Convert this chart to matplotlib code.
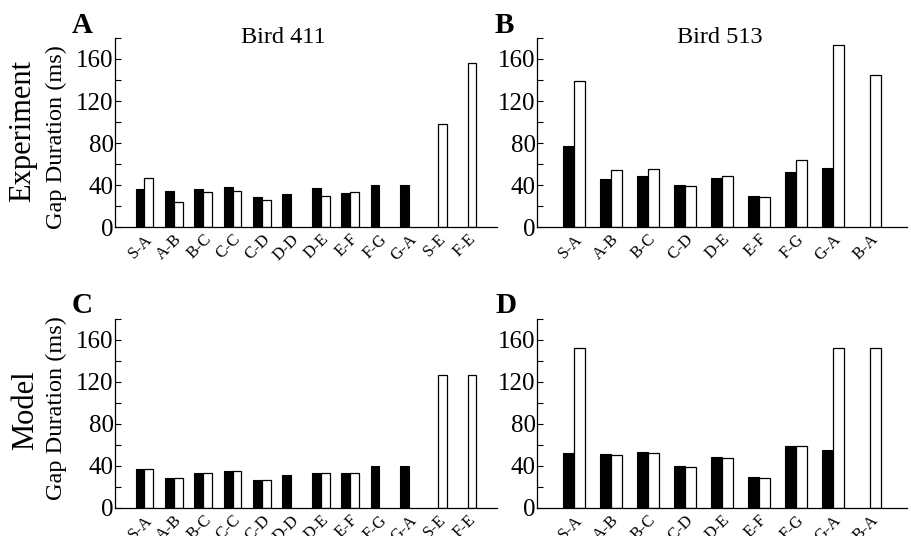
import numpy as np
import matplotlib
matplotlib.use('Agg')
from matplotlib import pyplot as plt

plt.rcParams['font.family'] = ['Liberation Serif', 'DejaVu Serif']

nan = np.nan

# Bird 411 transitions and gap durations (ms)
labels_411 = ['S-A', 'A-B', 'B-C', 'C-C', 'C-D', 'D-D', 'D-E', 'E-F', 'F-G', 'G-A', 'S-E', 'F-E']
exp_411_black = [36, 34, 36, 38, 28.5, 31.5, 37.5, 32.5, 40, 40, nan, nan]
exp_411_white = [47, 24, 33, 34, 25.5, nan, 30, 33, nan, nan, 98, 156]
mod_411_black = [37, 29, 33.5, 35.5, 27, 31.5, 33.5, 33.5, 40, 40, nan, nan]
mod_411_white = [37, 29, 33.5, 35.5, 27, nan, 33.5, 33.5, nan, nan, 126.5, 126.5]

# Bird 513 transitions and gap durations (ms)
labels_513 = ['S-A', 'A-B', 'B-C', 'C-D', 'D-E', 'E-F', 'F-G', 'G-A', 'B-A']
exp_513_black = [77.5, 45.5, 49, 40, 46.5, 30, 52.5, 56, nan]
exp_513_white = [139.5, 54.5, 55, 39, 49, 28.5, 64, 173.5, 144.5]
mod_513_black = [52.5, 51, 53, 40, 48.5, 29.5, 59, 55, nan]
mod_513_white = [152, 50.5, 52.5, 39.5, 48, 29, 59, 152, 152.5]

fig = plt.figure(figsize=(9.12, 5.36), dpi=100)

w = 0.3
left_a, width_a = 115/912, (497-115)/912
left_b, width_b = 537/912, (907-537)/912
bot_top, bot_bot = 1-227/536, 1-508/536
h = (227-38)/536

def draw_panel(rect, labels, black, white):
    ax = fig.add_axes(rect)
    x = np.arange(len(labels))
    black = np.array(black, dtype=float)
    white = np.array(white, dtype=float)
    mb = ~np.isnan(black)
    mw = ~np.isnan(white)
    # black bar left of the group centre, white bar right of it
    ax.bar(x[mb] - w, black[mb], width=w, align='edge', color='black',
           edgecolor='black', linewidth=0.8)
    ax.bar(x[mw], white[mw], width=w, align='edge', color='white',
           edgecolor='black', linewidth=0.9)
    ax.set_xlim(-1, len(labels))
    ax.set_ylim(0, 180)
    ax.set_yticks(np.arange(0, 181, 20))
    ax.set_yticklabels([str(v) if v % 40 == 0 and v <= 160 else '' for v in range(0, 181, 20)],
                       fontsize=18)
    ax.set_xticks(x)
    ax.set_xticklabels(labels, rotation=45, ha='right', va='top',
                       rotation_mode='anchor', fontsize=12)
    ax.tick_params(axis='y', direction='in', length=4, width=0.8, pad=1)
    ax.tick_params(axis='x', length=0, pad=3)
    for s in ['top', 'right']:
        ax.spines[s].set_visible(False)
    for s in ['left', 'bottom']:
        ax.spines[s].set_linewidth(0.9)
    return ax

draw_panel([left_a, bot_top, width_a, h], labels_411, exp_411_black, exp_411_white)
draw_panel([left_b, bot_top, width_b, h], labels_513, exp_513_black, exp_513_white)
draw_panel([left_a, bot_bot, width_a, h], labels_411, mod_411_black, mod_411_white)
draw_panel([left_b, bot_bot, width_b, h], labels_513, mod_513_black, mod_513_white)

# Titles
fig.text(283.7/912, 1-43/536, 'Bird 411', ha='center', va='baseline', fontsize=17.5)
fig.text(720/912, 1-43/536, 'Bird 513', ha='center', va='baseline', fontsize=17.5)

# Panel letters
for lx, ly, t in [(72, 33, 'A'), (495, 33, 'B'), (72, 313, 'C'), (495, 313, 'D')]:
    fig.text(lx/912, 1-ly/536, t, ha='left', va='baseline', fontsize=21, fontweight='bold')

# Row labels
fig.text(23/912, 1-131/536, 'Experiment', rotation=90, ha='center', va='center', fontsize=22)
fig.text(56.5/912, 1-137/536, 'Gap Duration (ms)', rotation=90, ha='center', va='center', fontsize=17.5)
fig.text(26/912, 1-410/536, 'Model', rotation=90, ha='center', va='center', fontsize=22)
fig.text(56.5/912, 1-408/536, 'Gap Duration (ms)', rotation=90, ha='center', va='center', fontsize=17.5)

fig.savefig('out.png', dpi=100)
